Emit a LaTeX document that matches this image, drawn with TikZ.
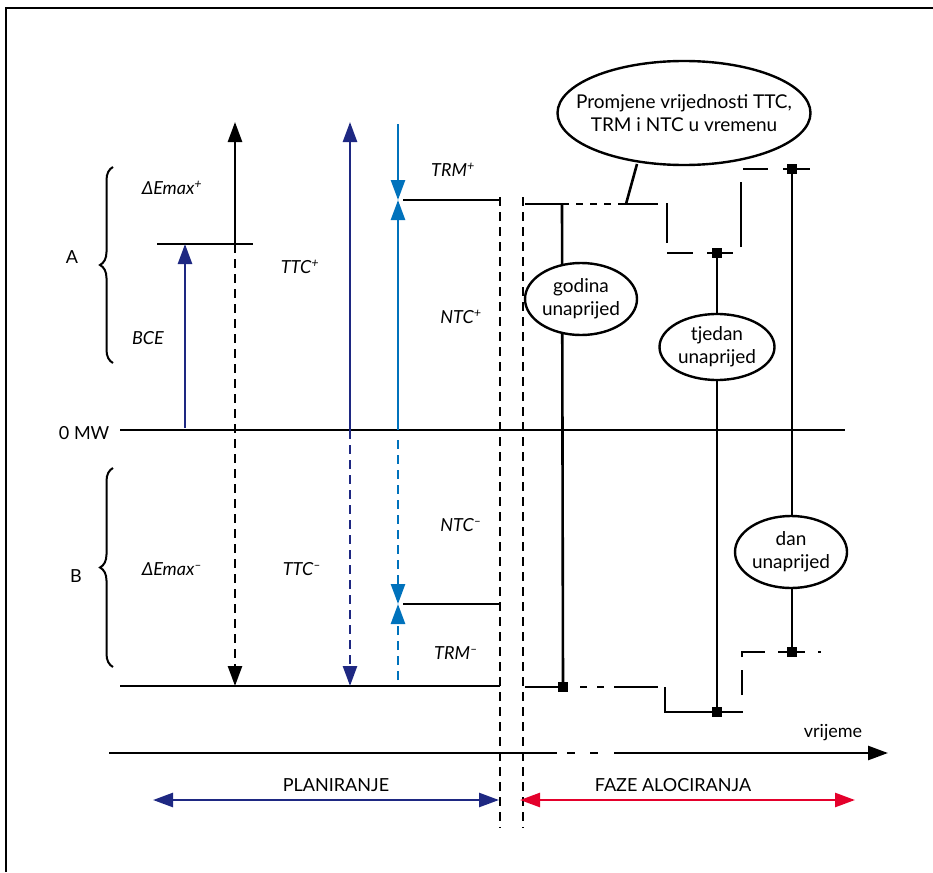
\documentclass[tikz,border=0pt]{standalone}
\usepackage{fontspec}
\setmainfont{Lato}
\usetikzlibrary{arrows.meta}
\usetikzlibrary{decorations.pathreplacing}
\usetikzlibrary{shapes.geometric}

\definecolor{navy}{RGB}{30,40,130}
\definecolor{skyblue}{RGB}{0,114,188}
\definecolor{alored}{RGB}{228,0,43}

\begin{document}
\begin{tikzpicture}[x=1pt, y=-1pt, line width=2.6pt,
    >={Triangle[length=20pt,width=14pt]},
    lbl/.style={font=\fontsize{18}{21}\selectfont\itshape},
    txt/.style={font=\fontsize{18}{21}\selectfont},
    intxt/.style={font=\fontsize{19}{23}\selectfont, align=center},
    oval/.style={draw, ellipse, fill=white, line width=2.4pt, inner sep=0pt},
    dsh/.style={dash pattern=on 9pt off 6pt},
    sq/.style={fill, rectangle, minimum size=10pt, inner sep=0pt}]
    \useasboundingbox (0,0) rectangle (933,872);

    % Frame
    \draw[line width=2.2pt] (6,872) -- (6,8) -- (933,8);

    % Zero line and lower limit
    \node[txt, anchor=east] (zero) at (114,433) {0 MW};
    \draw (120,430) -- (845,430);
    \draw (120,686) -- (500,686);

    % Braces A and B
    \draw[decorate, decoration={brace, amplitude=13pt}, line width=2pt] (113,363) -- (113,167);
    \draw[decorate, decoration={brace, amplitude=13pt}, line width=2pt] (113,667) -- (113,468);
    \node[txt] (brA) at (72,257) {A};
    \node[txt] (brB) at (76,576) {B};

    % BCE and Emax
    \draw (157,244) -- (253,244);
    \draw[navy, ->] (185,428) -- (185,244);
    \draw[->] (235,244) -- (235,122);
    \draw[dsh, ->] (235,244) -- (235,686);
    \node[lbl] (emaxp) at (172,188) {ΔEmax\textsuperscript{+}};
    \node[lbl] (bce) at (148,338) {BCE};
    \node[lbl] (emaxm) at (172,569) {ΔEmax\textsuperscript{–}};

    % TTC
    \draw[navy, ->] (350,430) -- (350,122);
    \draw[navy, dsh, ->] (350,430) -- (350,686);
    \node[lbl] (ttcp) at (300,267) {TTC\textsuperscript{+}};
    \node[lbl] (ttcm) at (302,569) {TTC\textsuperscript{–}};

    % NTC and TRM
    \draw[skyblue, ->] (398,124) -- (398,200);
    \draw[skyblue, ->] (398,430) -- (398,200);
    \draw[skyblue, dsh, ->] (398,440) -- (398,604);
    \draw[skyblue, dsh, ->] (398,680) -- (398,604);
    \draw (403,200) -- (500,200);
    \draw (403,604) -- (500,604);
    \node[lbl] (trmp) at (453,170) {TRM\textsuperscript{+}};
    \node[lbl] (ntcp) at (461,317) {NTC\textsuperscript{+}};
    \node[lbl] (ntcm) at (461,525) {NTC\textsuperscript{–}};
    \node[lbl] (trmm) at (456,653) {TRM\textsuperscript{–}};

    % Planning / allocation border
    \draw[dsh] (500,197) -- (500,828);
    \draw[dsh] (523,197) -- (523,828);

    % Upper step line
    \draw (525,204) -- (562,204);
    \draw[dash pattern=on 7pt off 7pt] (562,204) -- (625,204);
    \draw (625,204) -- (658,204);
    \draw (667,203) -- (667,243);
    \draw (667,253) -- (693,253);
    \draw (707,253) -- (733,253);
    \draw (741,247) -- (741,182);
    \draw (743,169) -- (768,169);
    \draw (783,169) -- (810,169);

    % Lower step line
    \draw (525,687) -- (567,687);
    \draw[dash pattern=on 7pt off 10pt] (580,687) -- (604,687);
    \draw (614,687) -- (658,687);
    \draw (665,687) -- (665,712) -- (743,712);
    \draw (742,695) -- (742,670);
    \draw (742,657) -- (742,652) -- (765,652);
    \draw (778,652) -- (805,652);
    \draw (818,652) -- (821,652);

    % Time horizons
    \coordinate (gtop) at (562,204);
    \node[sq] (gbot) at (563,687) {};
    \node[sq] (ttop) at (717,253) {};
    \node[sq] (tbot) at (717,712) {};
    \node[sq] (dtop) at (792,169) {};
    \node[sq] (dbot) at (792,652) {};
    \draw (gtop) -- (gbot.center);
    \draw (ttop.center) -- (tbot.center);
    \draw (dtop.center) -- (dbot.center);
    \node[sq] at (gbot) {};
    \node[sq] at (ttop) {};
    \node[sq] at (tbot) {};
    \node[sq] at (dtop) {};
    \node[sq] at (dbot) {};

    \node[oval, minimum width=112pt, minimum height=72pt] (godina) at (581,299) {};
    \node[intxt] (godinat) at (godina) {godina\\unaprijed};
    \node[oval, minimum width=115pt, minimum height=66pt] (tjedan) at (717,347) {};
    \node[intxt] (tjedant) at (tjedan) {tjedan\\unaprijed};
    \node[oval, minimum width=112pt, minimum height=72pt] (dan) at (791,552) {};
    \node[intxt] (dant) at (dan) {dan\\unaprijed};

    % Callout
    \node[oval, minimum width=253pt, minimum height=104pt] (prom) at (684,113) {};
    \node[intxt] (promt) at (prom) {Promjene vrijednosti TTC,\\TRM i NTC u vremenu};
    \coordinate (cfoot) at (626,204);
    \coordinate (chead) at (637,164);
    \draw (cfoot) -- (chead);

    % Time axis
    \draw (109,753) -- (557,753);
    \draw[dash pattern=on 8pt off 15pt] (567,753) -- (600,753);
    \draw[->] (614,753) -- (888,753);
    \node[txt] (time) at (833,733) {vrijeme};

    % Phases
    \coordinate (pl1) at (153,800);
    \coordinate (pl2) at (499,800);
    \coordinate (fa1) at (520,800);
    \coordinate (fa2) at (855,800);
    \draw[navy, <->] (pl1) -- (pl2);
    \draw[alored, <->] (fa1) -- (fa2);
    \node[txt] (plan) at (336,785) {PLANIRANJE};
    \node[txt] (faze) at (673,785) {FAZE ALOCIRANJA};
\end{tikzpicture}
\end{document}
